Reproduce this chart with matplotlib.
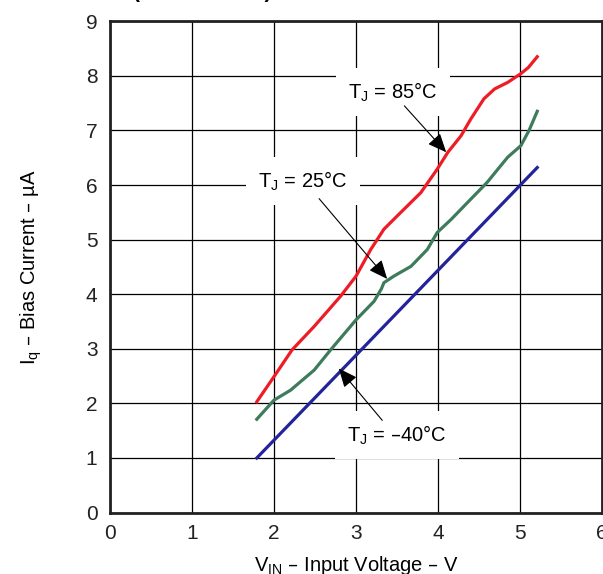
import matplotlib
matplotlib.use("Agg")
import matplotlib.pyplot as plt

plt.rcParams['font.family'] = ['Liberation Sans', 'DejaVu Sans']
plt.rcParams['mathtext.default'] = 'regular'

# curve data (V_IN in V, Iq in uA)
vin_85 = [1.79, 2.0, 2.22, 2.49, 2.81, 3.0, 3.18, 3.34, 3.5, 3.79, 3.99,
          4.12, 4.28, 4.40, 4.56, 4.69, 4.85, 5.01, 5.1, 5.21]
iq_85 = [2.03, 2.49, 2.98, 3.41, 3.96, 4.33, 4.82, 5.19, 5.43, 5.86, 6.29,
         6.6, 6.9, 7.21, 7.58, 7.76, 7.88, 8.04, 8.15, 8.35]

vin_25 = [1.79, 2.0, 2.2, 2.49, 2.69, 3.0, 3.22, 3.31, 3.34, 3.46, 3.67,
          3.87, 3.99, 4.16, 4.36, 4.6, 4.73, 4.85, 5.01, 5.11, 5.21]
iq_25 = [1.71, 2.06, 2.24, 2.61, 2.98, 3.53, 3.87, 4.1, 4.21, 4.33, 4.51,
         4.82, 5.13, 5.37, 5.68, 6.05, 6.29, 6.51, 6.72, 7.0, 7.35]

vin_m40 = [1.79, 5.21]
iq_m40 = [1.0, 6.32]

x_ticks = [0, 1, 2, 3, 4, 5, 6]
y_ticks = [0, 1, 2, 3, 4, 5, 6, 7, 8, 9]

# label text, text position, arrow tail and tip
labels = ["T$_{J}$ = 85°C", "T$_{J}$ = 25°C", "T$_{J}$ = –40°C"]
label_pos = [(3.45, 7.7), (2.35, 6.07), (3.5, 1.42)]
arrow_tip = [(4.10, 6.60), (3.38, 4.28), (2.79, 2.64)]
arrow_tail = [(3.59, 7.45), (2.55, 5.75), (3.32, 1.69)]

fig = plt.figure(figsize=(6.03, 5.74), dpi=100)
ax = fig.add_axes([0.1824, 0.107, 0.816, 0.856])

ax.plot(vin_85, iq_85, color='#ee1c25', linewidth=2.3, zorder=3)
ax.plot(vin_25, iq_25, color='#3e7b5c', linewidth=2.3, zorder=3)
ax.plot(vin_m40, iq_m40, color='#24249a', linewidth=2.3, zorder=3)

ax.set_xlim(0, 6)
ax.set_ylim(0, 9)
ax.set_xticks(x_ticks)
ax.set_yticks(y_ticks)
ax.tick_params(length=0, labelsize=15, colors='#222222')
ax.tick_params(axis='x', pad=8)
ax.tick_params(axis='y', pad=9)
ax.grid(True, color='black', linewidth=0.9)
ax.set_axisbelow(True)
for sp in ax.spines.values():
    sp.set_linewidth(2)
    sp.set_color('#222222')

ax.set_xlabel("V$_{IN}$ – Input Voltage – V", fontsize=14.5, labelpad=8)
ax.set_ylabel("I$_{q}$ – Bias Current – µA", fontsize=14.5, labelpad=30)

for txt, pos, tip, tail in zip(labels, label_pos, arrow_tip, arrow_tail):
    ax.text(pos[0], pos[1], txt, fontsize=14.5, ha='center', va='center',
            zorder=4, bbox=dict(facecolor='white', edgecolor='none', pad=9))
    ax.annotate("", xy=tip, xytext=tail, zorder=5,
                arrowprops=dict(arrowstyle='-|>,head_length=1.15,head_width=0.5',
                                color='black', linewidth=0.8,
                                shrinkA=0, shrinkB=0))

# title line of the page, only its bottom edge shows in the crop
fig.text(0.22, 1.004, "(IOUT = 0 mA)", fontsize=15, fontweight='bold',
         ha='left', va='baseline')

fig.savefig("out.png", dpi=100)
